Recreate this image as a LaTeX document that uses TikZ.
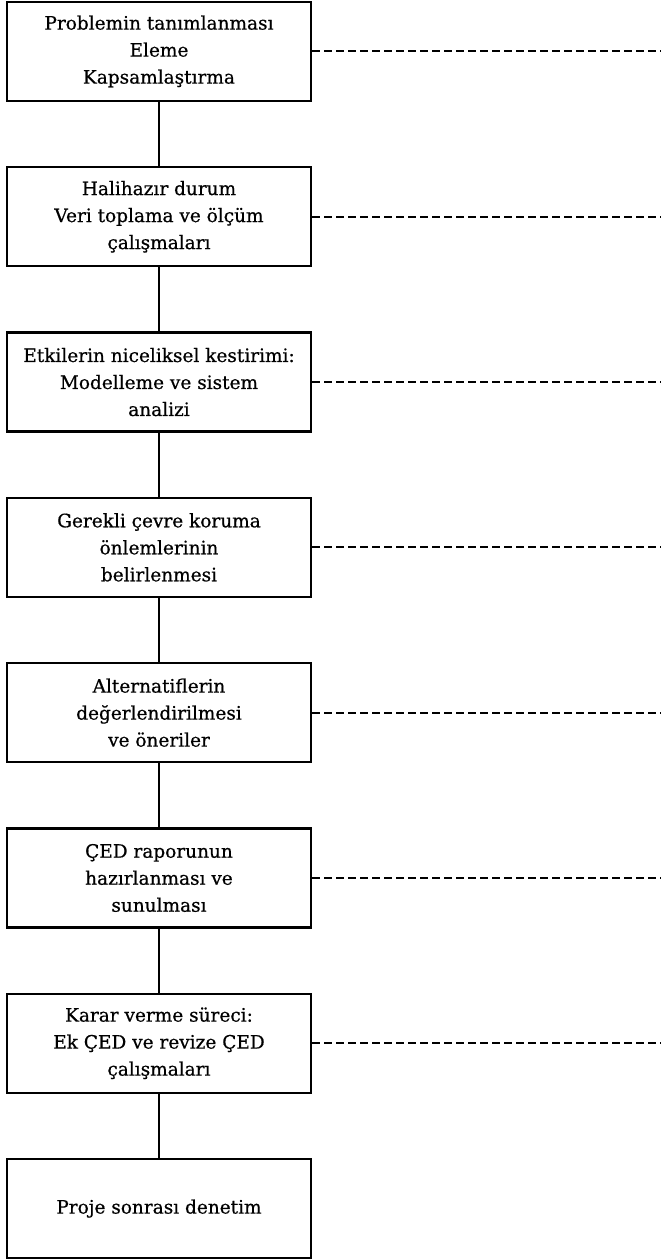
\documentclass[tikz,border=0pt]{standalone}
\usepackage{fontspec}
\setmainfont{DejaVu Serif}[FakeBold=0.6]
\usetikzlibrary{positioning}
\tikzset{%
  % Specifications for style of nodes:
      base/.style = {rectangle, draw=black, line width=2.2pt,
                     minimum width=304pt, minimum height=99pt,
                     text centered, align=center, inner sep=0pt,
                     font=\fontsize{18.5}{27}\selectfont},
     stage/.style = {base},
      link/.style = {line width=1.7pt},
  dashlink/.style = {line width=2pt, dash pattern=on 8pt off 4pt},
}

\begin{document}
\begin{tikzpicture}[node distance=165.3pt, x=1pt, y=1pt]
\useasboundingbox (0,0) rectangle (661,1259);
\coordinate (edge) at (661,0);

\node (PT)     [stage] at (159,1207.5)  {Problemin tanımlanması\\Eleme\\Kapsamlaştırma};

\node (HD)     [stage, below of=PT]     {Halihazır durum\\Veri toplama ve ölçüm\\çalışmaları};

\node (EK)     [stage, below of=HD]     {Etkilerin niceliksel kestirimi:\\Modelleme ve sistem\\analizi};

\node (GC)     [stage, below of=EK]     {Gerekli çevre koruma\\önlemlerinin\\belirlenmesi};

\node (AD)     [stage, below of=GC]     {Alternatiflerin\\değerlendirilmesi\\ve öneriler};

\node (CR)     [stage, below of=AD]     {ÇED raporunun\\hazırlanması ve\\sunulması};

\node (KV)     [stage, below of=CR]     {Karar verme süreci:\\Ek ÇED ve revize ÇED\\çalışmaları};

\node (PS)     [stage, below of=KV]     {Proje sonrası denetim};

\draw[link]           (PT) -- (HD);
\draw[link]           (HD) -- (EK);
\draw[link]           (EK) -- (GC);
\draw[link]           (GC) -- (AD);
\draw[link]           (AD) -- (CR);
\draw[link]           (CR) -- (KV);
\draw[link]           (KV) -- (PS);

\draw[dashlink]       (PT.east) -- (PT.east -| edge);
\draw[dashlink]       (HD.east) -- (HD.east -| edge);
\draw[dashlink]       (EK.east) -- (EK.east -| edge);
\draw[dashlink]       (GC.east) -- (GC.east -| edge);
\draw[dashlink]       (AD.east) -- (AD.east -| edge);
\draw[dashlink]       (CR.east) -- (CR.east -| edge);
\draw[dashlink]       (KV.east) -- (KV.east -| edge);
\end{tikzpicture}
\end{document}
